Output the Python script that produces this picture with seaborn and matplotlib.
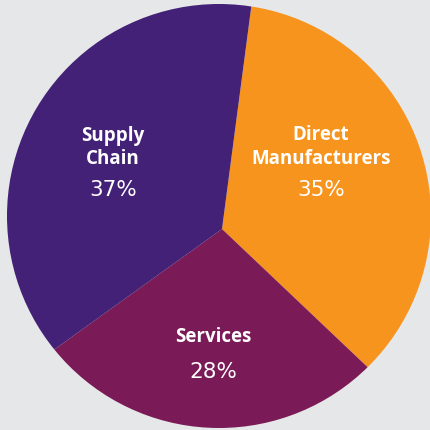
import matplotlib
matplotlib.use("Agg")
import matplotlib.pyplot as plt
import seaborn as sns
from matplotlib.patches import Circle

# Data
segments = ["Direct\nManufacturers", "Services", "Supply\nChain"]
shares = [35, 28, 37]
colors = ["#f7941d", "#7a1a57", "#432176"]

# label anchor positions in pixels (x, name line centre, percent line centre)
label_px = {
    "Direct\nManufacturers": (321, 147, 190),
    "Services": (213, 337, 372),
    "Supply\nChain": (113, 147, 190),
}

sns.set_style("white")
plt.rcParams["font.family"] = ["Open Sans", "DejaVu Sans"]

W = 431
cx, cy, r = 219, 217, 212   # outline circle
vx, vy = 222, 230           # where the slices meet


def to_data(px, py):
    return (px - cx) / r, (cy - py) / r


fig = plt.figure(figsize=(W / 100, W / 100), dpi=100)
fig.patch.set_facecolor("#e6e7e8")
ax = fig.add_axes([0, 0, 1, 1])
ax.set_facecolor("#e6e7e8")

wedges, _ = ax.pie(shares, colors=colors, startangle=82.5, counterclock=False,
                   radius=1.3, center=to_data(vx, vy),
                   wedgeprops=dict(linewidth=0))

for name, val in zip(segments, shares):
    x, y1, y2 = label_px[name]
    tx, ty = to_data(x, y1)
    ax.text(tx, ty, name, ha="center", va="center", color="white",
            fontsize=13.5, fontweight="bold", linespacing=1.2)
    tx, ty = to_data(x, y2)
    ax.text(tx, ty, f"{val}%", ha="center", va="center", color="white",
            fontsize=15.5, fontweight="normal", family=["DejaVu Sans"])

ax.set_xlim(-cx / r, (W - cx) / r)
ax.set_ylim(-(W - cy) / r, cy / r)
ax.set_aspect("equal")
ax.axis("off")

# clip the slices to the round outline (pie turns clipping off by default)
outline = Circle((0, 0), 1, facecolor="none", edgecolor="none")
ax.add_patch(outline)
for w in wedges:
    w.set_clip_on(True)
    w.set_clip_path(outline)

fig.savefig("out.png", dpi=100, facecolor=fig.get_facecolor())
